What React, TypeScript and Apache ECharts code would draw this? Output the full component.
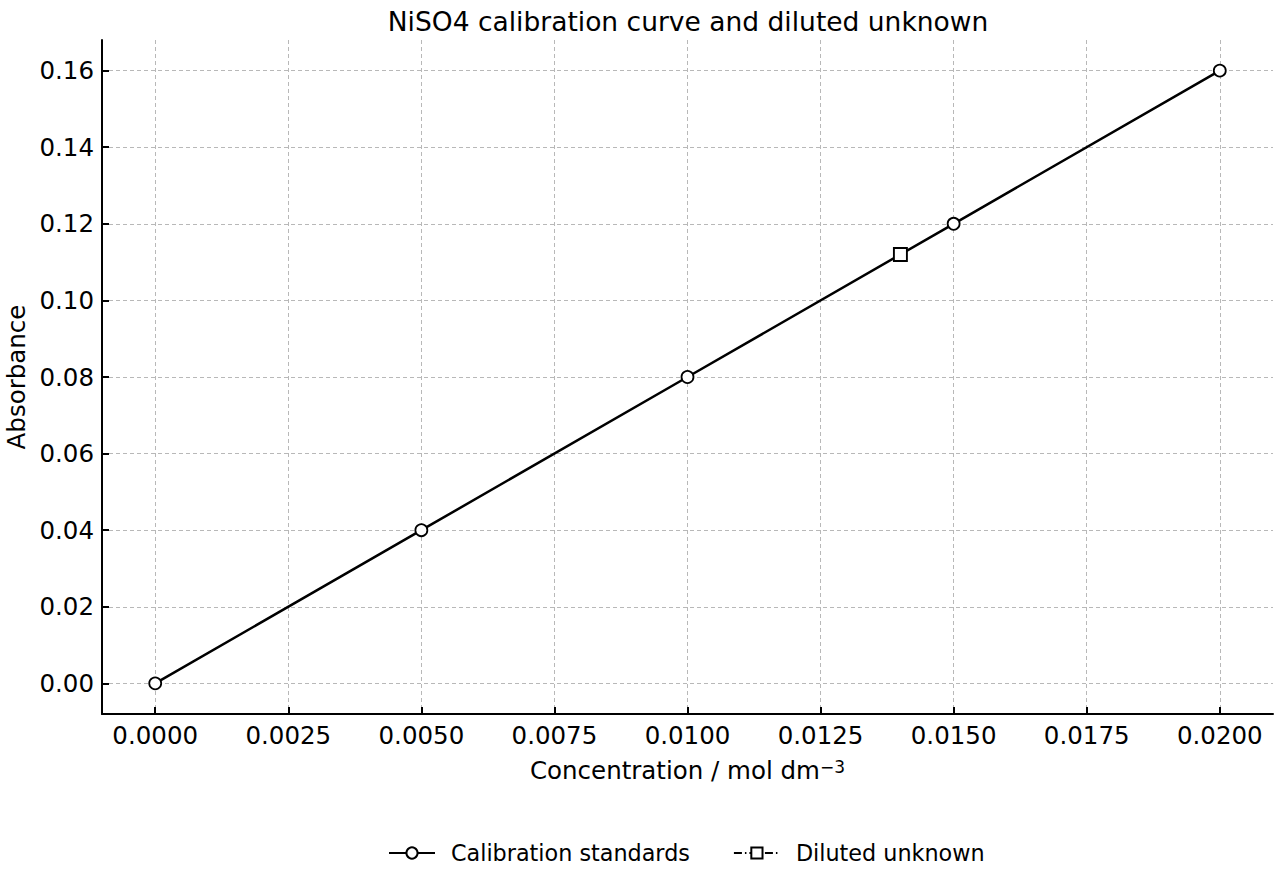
import React, { useEffect, useRef } from "react";
import * as echarts from "echarts";

const concentrations = [0, 0.005, 0.01, 0.015, 0.02];
const absorbances = [0, 0.04, 0.08, 0.12, 0.16];
const unknownConc = [0.014];
const unknownAbs = [0.112];
const xTicks = [0, 0.0025, 0.005, 0.0075, 0.01, 0.0125, 0.015, 0.0175, 0.02];
const yTicks = [0, 0.02, 0.04, 0.06, 0.08, 0.1, 0.12, 0.14, 0.16];

const FONT = "DejaVu Sans";
const FS = 24.5;

export default function App() {
  const ref = useRef<HTMLDivElement>(null);
  useEffect(() => {
    document.body.style.margin = "0";
    const chart = echarts.init(ref.current!, null, { renderer: "svg" });
    const axisCommon = {
      axisLine: { show: true, onZero: false, lineStyle: { color: "#000", width: 2 } },
      axisTick: { show: true, inside: true, length: 7, lineStyle: { color: "#000", width: 2 } },
      splitLine: { show: true, lineStyle: { color: "#b8b8b8", width: 1, type: [4, 3] } },
    };
    chart.setOption({
      animation: false,
      backgroundColor: "#fff",
      title: {
        text: "NiSO4 calibration curve and diluted unknown",
        left: 683,
        textAlign: "center",
        top: 3,
        textStyle: { fontFamily: FONT, fontSize: 26.5, fontWeight: "normal", color: "#000" },
      },
      legend: {
        bottom: 11,
        left: 383,
        itemWidth: 46,
        itemHeight: 14,
        itemGap: 43,
        textStyle: { fontFamily: FONT, fontSize: 22.3, color: "#000", padding: [0, 0, 0, 11] },
        data: ["Calibration standards", "Diluted unknown"],
      },
      grid: { left: 102, right: 7, top: 40, bottom: 166, outerBoundsMode: "none", containLabel: false },
      xAxis: {
        type: "value",
        min: -0.001,
        max: 0.021,
        name: "{a|Concentration / mol dm}{b|\u22123}",
        nameLocation: "middle",
        nameGap: 44,
        nameTextStyle: {
          fontFamily: FONT,
          fontSize: FS,
          color: "#000",
          rich: {
            a: { fontFamily: FONT, fontSize: FS, color: "#000" },
            b: { fontFamily: FONT, fontSize: 17, color: "#000", verticalAlign: "top", padding: [0, 0, 6, 0] },
          },
        },
        ...axisCommon,
        axisTick: { ...axisCommon.axisTick, customValues: xTicks },
        axisLabel: {
          customValues: xTicks,
          margin: 9,
          fontFamily: FONT,
          fontSize: FS,
          color: "#000",
          formatter: (v: number) => v.toFixed(4),
        },
      },
      yAxis: {
        type: "value",
        min: -0.008,
        max: 0.168,
        name: "Absorbance",
        nameLocation: "middle",
        nameGap: 71,
        nameTextStyle: { fontFamily: FONT, fontSize: FS, color: "#000" },
        ...axisCommon,
        axisTick: { ...axisCommon.axisTick, customValues: yTicks },
        axisLabel: {
          customValues: yTicks,
          margin: 8,
          fontFamily: FONT,
          fontSize: FS,
          color: "#000",
          formatter: (v: number) => v.toFixed(2),
        },
      },
      series: [
        {
          name: "Calibration standards",
          type: "line",
          data: concentrations.map((c, i) => [c, absorbances[i]]),
          symbol: "circle",
          symbolSize: 12,
          showAllSymbol: true,
          lineStyle: { color: "#000", width: 2.5 },
          itemStyle: { color: "#fff", borderColor: "#000", borderWidth: 1.8 },
          z: 3,
        },
        {
          name: "Diluted unknown",
          type: "line",
          data: unknownConc.map((c, i) => [c, unknownAbs[i]]),
          symbol: "rect",
          symbolSize: 13,
          lineStyle: { color: "#000", width: 2.5, type: [8, 3, 1.5, 3] },
          itemStyle: { color: "#fff", borderColor: "#000", borderWidth: 1.9 },
          z: 4,
        },
      ],
    });
    return () => chart.dispose();
  }, []);
  return <div ref={ref} style={{ width: 1280, height: 880 }} />;
}
